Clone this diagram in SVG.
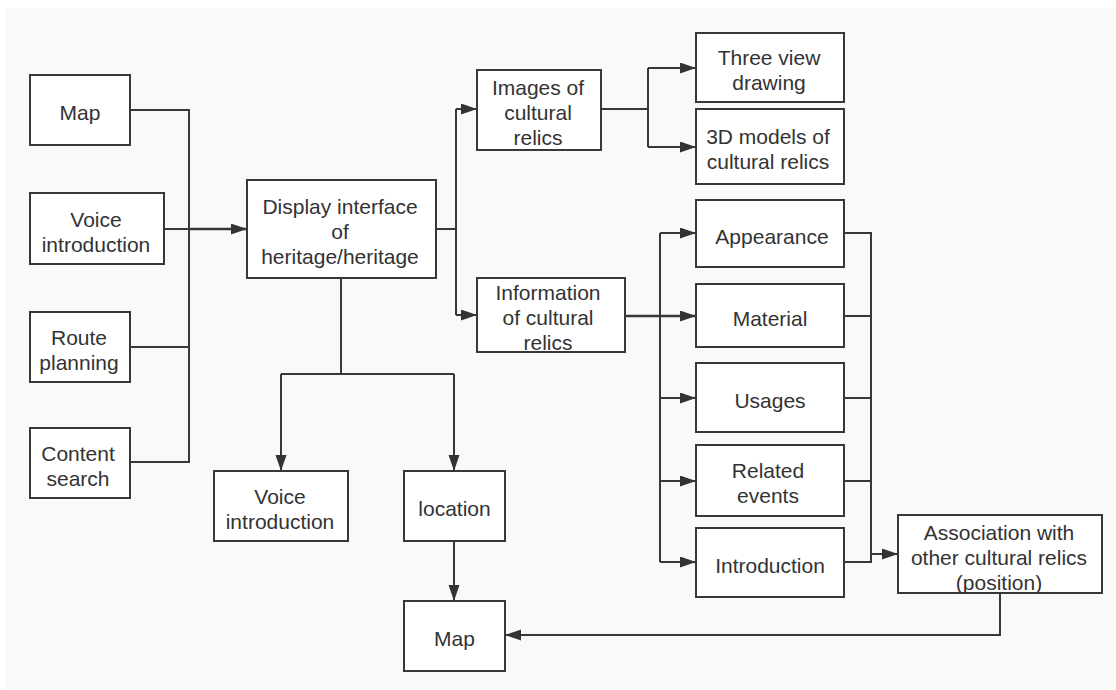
<svg xmlns="http://www.w3.org/2000/svg" width="1116" height="690" viewBox="0 0 1116 690">
<defs>
<marker id="arr" markerUnits="userSpaceOnUse" markerWidth="17" markerHeight="12" refX="16" refY="5.5" orient="auto">
<path d="M0,0 L16,5.5 L0,11 z" fill="#333"/>
</marker>
<style>
.box{fill:#fff;stroke:#383838;stroke-width:2}
.t{font-family:"Liberation Sans",Arial,sans-serif;font-size:21px;fill:#333;text-anchor:middle}
.c path{fill:none;stroke:#383838;stroke-width:2}
.a{marker-end:url(#arr)}
</style>
</defs>
<rect x="0" y="0" width="1116" height="690" fill="#fff"/>
<rect x="5" y="8" width="1111" height="681" fill="#f9f9f9"/>

<g class="c" id="connectors">
<path d="M130,110 H189 V462 H130"/>
<path d="M130,347 H189"/>
<path d="M164,229 H189"/>
<path class="a" d="M189,229 H247" style="stroke-width:2.5"/>
<path d="M436,229 H456"/>
<path d="M456,109 V315"/>
<path class="a" d="M456,109 H477"/>
<path class="a" d="M456,315 H477"/>
<path d="M601,109 H648"/>
<path d="M648,68 V147"/>
<path class="a" d="M648,68 H696"/>
<path class="a" d="M648,147 H696"/>
<path class="a" d="M625,316 H696" style="stroke-width:2.5"/>
<path d="M660,233 V562"/>
<path class="a" d="M660,233 H696"/>
<path class="a" d="M660,398 H696"/>
<path class="a" d="M660,481 H696"/>
<path class="a" d="M660,562 H696"/>
<path d="M844,233 H871 V562 H844"/>
<path d="M844,316 H871"/>
<path d="M844,398 H871"/>
<path d="M844,481 H871"/>
<path class="a" d="M871,554 H898"/>
<path class="a" d="M1000,593 V635 H505"/>
<path d="M341,278 V374"/>
<path d="M281,374 H454"/>
<path class="a" d="M281,374 V471"/>
<path class="a" d="M454,374 V471"/>
<path class="a" d="M454,541 V601"/>
</g>

<g id="map-top"><rect class="box" x="30" y="75" width="100" height="70"/><text class="t" x="80" y="120">Map</text></g>
<g id="voice-left"><rect class="box" x="30" y="193" width="134" height="71"/><text class="t" x="96" y="226.5">Voice</text><text class="t" x="96" y="251.5">introduction</text></g>
<g id="route"><rect class="box" x="30" y="312" width="100" height="70"/><text class="t" x="79" y="344.5">Route</text><text class="t" x="79" y="369.5">planning</text></g>
<g id="content"><rect class="box" x="30" y="428" width="100" height="70"/><text class="t" x="78" y="460.5">Content</text><text class="t" x="78" y="485.5">search</text></g>
<g id="display"><rect class="box" x="247" y="180" width="189" height="98"/><text class="t" x="340" y="214">Display interface</text><text class="t" x="340" y="239">of</text><text class="t" x="340" y="264">heritage/heritage</text></g>
<g id="voice-bottom"><rect class="box" x="214" y="471" width="134" height="70"/><text class="t" x="280" y="503.5">Voice</text><text class="t" x="280" y="528.5">introduction</text></g>
<g id="location"><rect class="box" x="404" y="471" width="101" height="70"/><text class="t" x="454.5" y="516">location</text></g>
<g id="map-bottom"><rect class="box" x="404" y="601" width="101" height="70"/><text class="t" x="454.5" y="646">Map</text></g>
<g id="images"><rect class="box" x="477" y="70" width="124" height="80"/><text class="t" x="538" y="95">Images of</text><text class="t" x="538" y="120">cultural</text><text class="t" x="538" y="145">relics</text></g>
<g id="information"><rect class="box" x="477" y="278" width="148" height="74"/><text class="t" x="548" y="300">Information</text><text class="t" x="548" y="325">of cultural</text><text class="t" x="548" y="350">relics</text></g>
<g id="three-view"><rect class="box" x="696" y="33" width="148" height="69"/><text class="t" x="769" y="65">Three view</text><text class="t" x="769" y="90">drawing</text></g>
<g id="models-3d"><rect class="box" x="696" y="109" width="148" height="75"/><text class="t" x="768" y="144">3D models of</text><text class="t" x="768" y="169">cultural relics</text></g>
<g id="appearance"><rect class="box" x="696" y="200" width="148" height="67"/><text class="t" x="772" y="244">Appearance</text></g>
<g id="material"><rect class="box" x="696" y="284" width="148" height="63"/><text class="t" x="770" y="326">Material</text></g>
<g id="usages"><rect class="box" x="696" y="363" width="148" height="69"/><text class="t" x="770" y="408">Usages</text></g>
<g id="related"><rect class="box" x="696" y="445" width="148" height="71"/><text class="t" x="768" y="478">Related</text><text class="t" x="768" y="503">events</text></g>
<g id="introduction"><rect class="box" x="696" y="528" width="148" height="69"/><text class="t" x="770" y="573">Introduction</text></g>
<g id="association"><rect class="box" x="898" y="515" width="204" height="78"/><text class="t" x="999" y="540">Association with</text><text class="t" x="999" y="565">other cultural relics</text><text class="t" x="999" y="590">(position)</text></g>
</svg>
